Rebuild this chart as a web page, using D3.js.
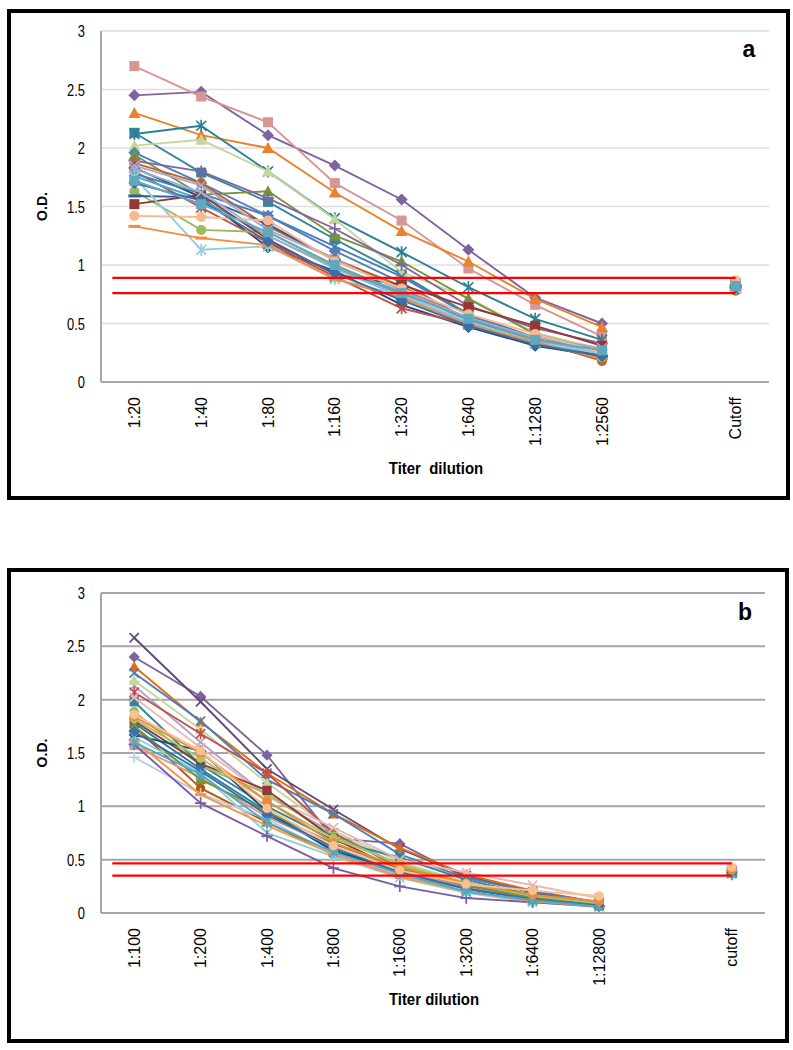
<!DOCTYPE html>
<meta charset="utf-8">
<style>
body { margin: 0; background: #fff; }
.ytick { font: 17px "Liberation Sans", Arial, sans-serif; }
.xtick { font: 16px "Liberation Sans", Arial, sans-serif; }
.xtitle { font: bold 17px "Liberation Sans", Arial, sans-serif; }
.ytitle { font: bold 14px "Liberation Sans", Arial, sans-serif; }
.panel { font: bold 23px "Liberation Sans", Arial, sans-serif; }
</style>
<svg id="chart" width="793" height="1050"></svg>
<script src="https://cdnjs.cloudflare.com/ajax/libs/d3/7.8.5/d3.min.js"></script>
<script>

// ---- panel a data ----
var categoriesA = ["1:20", "1:40", "1:80", "1:160", "1:320", "1:640", "1:1280", "1:2560", "", "Cutoff"];
var cutoffA = [0.89, 0.76];
var markersA = ["diamond", "square", "triangle", "square", "asterisk", "triangle", "diamond", "triangle",
  "plus", "circle", "diamond", "asterisk", "x", "asterisk", "circle", "dash", "square", "x", "x",
  "asterisk", "circle", "dash", "diamond", "square"];
var colorsA = ["#7F63A1", "#D99593", "#E9822E", "#31859C", "#2A8094", "#C3D69B", "#4F81BD", "#77933C",
  "#8064A2", "#B9652A", "#1F497D", "#C0504D", "#4A7EBB", "#4BACC6", "#9BBB59", "#2C5E9E", "#953735",
  "#B3A2C7", "#95B3D7", "#93CDDD", "#FAB88E", "#F38C3C", "#3C6FA8", "#5FA8BF"];
var valuesA = [
  [2.45, 2.48, 2.11, 1.85, 1.56, 1.13, 0.72, 0.50, null, 0.82],
  [2.70, 2.44, 2.22, 1.70, 1.38, 0.97, 0.66, 0.39, null, 0.84],
  [2.30, 2.11, 2.00, 1.62, 1.29, 1.03, 0.71, 0.47, null, 0.80],
  [2.13, 1.79, 1.54, 1.22, 0.92, 0.58, 0.38, 0.27, null, 0.81],
  [2.12, 2.19, 1.80, 1.40, 1.11, 0.81, 0.54, 0.36, null, 0.83],
  [2.02, 2.07, 1.80, 1.39, 0.94, 0.72, 0.42, 0.28, null, 0.80],
  [1.96, 1.70, 1.42, 1.12, 0.85, 0.53, 0.33, 0.21, null, 0.82],
  [1.94, 1.60, 1.63, 1.25, 1.03, 0.71, 0.41, 0.26, null, 0.81],
  [1.89, 1.80, 1.57, 1.31, 1.00, 0.65, 0.46, 0.33, null, 0.83],
  [1.87, 1.70, 1.33, 1.05, 0.82, 0.53, 0.35, 0.18, null, 0.78],
  [1.83, 1.58, 1.15, 0.95, 0.66, 0.47, 0.31, 0.22, null, 0.80],
  [1.80, 1.49, 1.19, 0.90, 0.63, 0.49, 0.34, 0.23, null, 0.82],
  [1.78, 1.61, 1.42, 1.16, 0.90, 0.57, 0.36, 0.26, null, 0.84],
  [1.76, 1.56, 1.25, 0.98, 0.75, 0.50, 0.33, 0.24, null, 0.80],
  [1.63, 1.30, 1.28, 0.99, 0.77, 0.55, 0.37, 0.21, null, 0.82],
  [1.59, 1.58, 1.35, 1.04, 0.80, 0.52, 0.36, 0.22, null, 0.81],
  [1.52, 1.60, 1.22, 0.92, 0.83, 0.64, 0.48, 0.31, null, 0.83],
  [1.85, 1.68, 1.30, 1.05, 0.78, 0.55, 0.38, 0.29, null, 0.82],
  [1.82, 1.62, 1.25, 0.97, 0.73, 0.51, 0.35, 0.25, null, 0.81],
  [1.75, 1.13, 1.16, 0.88, 0.74, 0.52, 0.34, 0.24, null, 0.80],
  [1.42, 1.41, 1.38, 1.03, 0.80, 0.58, 0.41, 0.25, null, 0.87],
  [1.33, 1.23, 1.17, 0.88, 0.72, 0.49, 0.34, 0.20, null, 0.79],
  [1.70, 1.55, 1.20, 0.93, 0.70, 0.48, 0.32, 0.22, null, 0.81],
  [1.72, 1.52, 1.28, 1.00, 0.76, 0.54, 0.36, 0.27, null, 0.82]
];

// ---- panel b data ----
var categoriesB = ["1:100", "1:200", "1:400", "1:800", "1:1600", "1:3200", "1:6400", "1:12800", "", "cutoff"];
var cutoffB = [0.465, 0.35];
var markersB = ["diamond", "x", "triangle", "x", "x", "triangle", "asterisk", "square", "x", "circle",
  "square", "circle", "asterisk", "diamond", "asterisk", "square", "plus", "plus", "dash", "triangle",
  "circle", "diamond", "asterisk", "circle", "circle"];
var colorsB = ["#7F63A1", "#604A7B", "#E46C0A", "#4A7EBB", "#B3A2C7", "#C3D69B", "#C0504D", "#31859C",
  "#E6B9B8", "#9BBB59", "#953735", "#B65708", "#2A8094", "#1F497D", "#93CDDD", "#D99694", "#B9CDE5",
  "#7A5BA5", "#F79646", "#77933C", "#A9C56A", "#3C6FA8", "#4BACC6", "#F08A3A", "#FAC090"];
var valuesB = [
  [2.40, 2.03, 1.48, 0.70, 0.65, 0.33, 0.20, 0.10, null, 0.40],
  [2.58, 1.98, 1.35, 0.97, 0.60, 0.35, 0.19, 0.09, null, 0.39],
  [2.31, 1.79, 1.31, 0.93, 0.61, 0.36, 0.21, 0.10, null, 0.41],
  [2.25, 1.80, 1.25, 0.93, 0.55, 0.33, 0.20, 0.10, null, 0.38],
  [2.13, 1.60, 1.10, 0.75, 0.45, 0.28, 0.17, 0.10, null, 0.40],
  [2.18, 1.72, 1.22, 0.77, 0.48, 0.29, 0.16, 0.09, null, 0.37],
  [2.07, 1.68, 1.31, 0.75, 0.42, 0.27, 0.15, 0.08, null, 0.39],
  [1.98, 1.39, 1.00, 0.68, 0.52, 0.31, 0.17, 0.09, null, 0.38],
  [2.02, 1.55, 1.10, 0.80, 0.50, 0.38, 0.26, 0.14, null, 0.41],
  [1.89, 1.38, 1.12, 0.72, 0.45, 0.26, 0.15, 0.08, null, 0.40],
  [1.80, 1.40, 1.15, 0.70, 0.40, 0.25, 0.14, 0.07, null, 0.39],
  [1.75, 1.17, 0.85, 0.55, 0.35, 0.22, 0.11, 0.06, null, 0.37],
  [1.78, 1.35, 0.95, 0.60, 0.38, 0.22, 0.12, 0.07, null, 0.38],
  [1.67, 1.52, 0.95, 0.58, 0.40, 0.22, 0.12, 0.07, null, 0.39],
  [1.65, 1.31, 0.75, 0.53, 0.33, 0.19, 0.10, 0.06, null, 0.37],
  [1.57, 1.27, 0.90, 0.62, 0.40, 0.24, 0.14, 0.08, null, 0.40],
  [1.46, 1.12, 0.88, 0.55, 0.36, 0.21, 0.11, 0.05, null, 0.38],
  [1.58, 1.03, 0.72, 0.42, 0.25, 0.14, 0.10, 0.06, null, 0.36],
  [1.62, 1.11, 0.82, 0.55, 0.34, 0.20, 0.11, 0.06, null, 0.39],
  [1.75, 1.25, 0.95, 0.65, 0.42, 0.26, 0.14, 0.08, null, 0.40],
  [1.82, 1.45, 1.05, 0.70, 0.46, 0.28, 0.16, 0.09, null, 0.41],
  [1.70, 1.33, 0.92, 0.62, 0.38, 0.23, 0.13, 0.07, null, 0.38],
  [1.60, 1.30, 0.85, 0.57, 0.37, 0.20, 0.12, 0.06, null, 0.37],
  [1.84, 1.50, 1.05, 0.66, 0.43, 0.28, 0.17, 0.11, null, 0.40],
  [1.86, 1.52, 0.98, 0.63, 0.40, 0.27, 0.21, 0.16, null, 0.43]
];

var yTicks = [0, 0.5, 1, 1.5, 2, 2.5, 3];

var svg = d3.select("#chart");

// marker shapes, roughly the Excel 2007 set
function marker(g, type, color, s) {
  if (type == "diamond") {
    g.append("path").attr("d", "M0," + (-s - 1) + "L" + (s + 1) + ",0L0," + (s + 1) + "L" + (-s - 1) + ",0Z").attr("fill", color);
  } else if (type == "square") {
    g.append("rect").attr("x", -s).attr("y", -s).attr("width", 2 * s).attr("height", 2 * s).attr("fill", color);
  } else if (type == "triangle") {
    g.append("path").attr("d", "M0," + (-s - 1) + "L" + (s + 1) + "," + (s) + "L" + (-s - 1) + "," + (s) + "Z").attr("fill", color);
  } else if (type == "circle") {
    g.append("circle").attr("r", s).attr("fill", color);
  } else if (type == "dash") {
    g.append("rect").attr("x", -s - 1).attr("y", -1.5).attr("width", 2 * s + 2).attr("height", 3).attr("fill", color);
  } else {
    var p = "";
    if (type == "x" || type == "asterisk") p += "M" + (-s) + "," + (-s) + "L" + s + "," + s + "M" + (-s) + "," + s + "L" + s + "," + (-s);
    if (type == "asterisk") p += "M0," + (-s - 1) + "L0," + (s + 1);
    if (type == "plus") p += "M" + (-s - 1) + ",0L" + (s + 1) + ",0M0," + (-s - 1) + "L0," + (s + 1);
    g.append("path").attr("d", p).attr("fill", "none").attr("stroke", color).attr("stroke-width", 1.7);
  }
}

function drawPanel(o) {
  var x = d3.scaleBand().domain(d3.range(o.categories.length)).range([o.left, o.right]);
  var y = d3.scaleLinear().domain([0, 3]).range([o.bottom, o.top]);
  var cx = function(i) { return x(i) + x.bandwidth() / 2; };

  // frame
  svg.append("rect")
    .attr("x", o.frame[0]).attr("y", o.frame[1])
    .attr("width", o.frame[2]).attr("height", o.frame[3])
    .attr("fill", "none").attr("stroke", "#000").attr("stroke-width", 4);

  // gridlines
  svg.append("g").selectAll("line")
    .data(yTicks.slice(1))
    .enter().append("line")
      .attr("x1", o.left).attr("x2", o.right)
      .attr("y1", function(d) { return y(d); }).attr("y2", function(d) { return y(d); })
      .attr("stroke", o.gridColor).attr("stroke-width", o.gridWidth);

  // axes lines
  svg.append("line").attr("x1", o.left).attr("x2", o.right).attr("y1", o.bottom).attr("y2", o.bottom)
    .attr("stroke", o.axisColor).attr("stroke-width", 2);
  svg.append("line").attr("x1", o.left).attr("x2", o.left).attr("y1", o.top).attr("y2", o.bottom)
    .attr("stroke", o.axisColor).attr("stroke-width", 2);

  // y tick labels, squeezed to look like a narrow face
  svg.append("g").selectAll("text")
    .data(yTicks)
    .enter().append("text")
      .attr("class", "ytick")
      .attr("text-anchor", "end")
      .attr("transform", function(d) { return "translate(" + (o.left - 16) + "," + (y(d) + 6) + ") scale(0.76,1)"; })
      .text(function(d) { return d; });

  // x tick labels (rotated)
  svg.append("g").selectAll("text")
    .data(o.categories)
    .enter().append("text")
      .attr("class", "xtick")
      .attr("text-anchor", "end")
      .attr("transform", function(d, i) { return "translate(" + (cx(i) + 5.5) + "," + (o.bottom + 15) + ") rotate(-90)"; })
      .text(function(d) { return d; });

  svg.append("text").attr("class", "xtitle")
    .attr("text-anchor", "middle").style("white-space", "pre")
    .attr("transform", "translate(" + ((o.left + o.right) / 2 + 1) + "," + (o.bottom + 92) + ") scale(0.88,1)")
    .text(o.xTitle);

  svg.append("text").attr("class", "ytitle")
    .attr("text-anchor", "middle")
    .attr("transform", "translate(" + (o.left - 54) + "," + ((o.top + o.bottom) / 2) + ") rotate(-90)")
    .text("O.D.");

  svg.append("text").attr("class", "panel")
    .attr("x", o.right - 20).attr("y", o.top + o.labelDy)
    .attr("text-anchor", "middle")
    .text(o.label);

  var line = d3.line()
    .defined(function(d) { return d != null; })
    .x(function(d, i) { return cx(i); })
    .y(function(d) { return y(d); });

  var series = svg.append("g").selectAll("g")
    .data(o.values)
    .enter().append("g");

  series.append("path")
    .attr("d", function(d) { return line(d); })
    .attr("fill", "none")
    .attr("stroke", function(d, i) { return o.colors[i]; })
    .attr("stroke-width", 1.9);

  series.each(function(vals, si) {
    var g = d3.select(this);
    vals.forEach(function(v, i) {
      if (v == null) return;
      var m = g.append("g").attr("transform", "translate(" + cx(i) + "," + y(v) + ")");
      marker(m, o.markers[si], o.colors[si], o.markerSize);
    });
  });

  // cutoff lines
  svg.append("g").selectAll("line")
    .data(o.cutoff)
    .enter().append("line")
      .attr("x1", cx(0) - x.bandwidth() * 0.33)
      .attr("x2", cx(o.categories.length - 1))
      .attr("y1", function(d) { return y(d); }).attr("y2", function(d) { return y(d); })
      .attr("stroke", "#FF0000").attr("stroke-width", 2.2);
}

drawPanel({
  categories: categoriesA, values: valuesA, markers: markersA, colors: colorsA, cutoff: cutoffA,
  left: 101, right: 769, top: 31, bottom: 382,
  frame: [9, 11, 779, 487],
  gridColor: "#DEDEDE", gridWidth: 1.5, axisColor: "#A8A8A8",
  markerSize: 5, xTitle: "Titer  dilution", label: "a", labelDy: 26
});

drawPanel({
  categories: categoriesB, values: valuesB, markers: markersB, colors: colorsB, cutoff: cutoffB,
  left: 101, right: 765, top: 593, bottom: 913,
  frame: [9, 570, 778, 471],
  gridColor: "#A6A6A6", gridWidth: 2, axisColor: "#A6A6A6",
  markerSize: 4.6, xTitle: "Titer dilution", label: "b", labelDy: 27
});

</script>
